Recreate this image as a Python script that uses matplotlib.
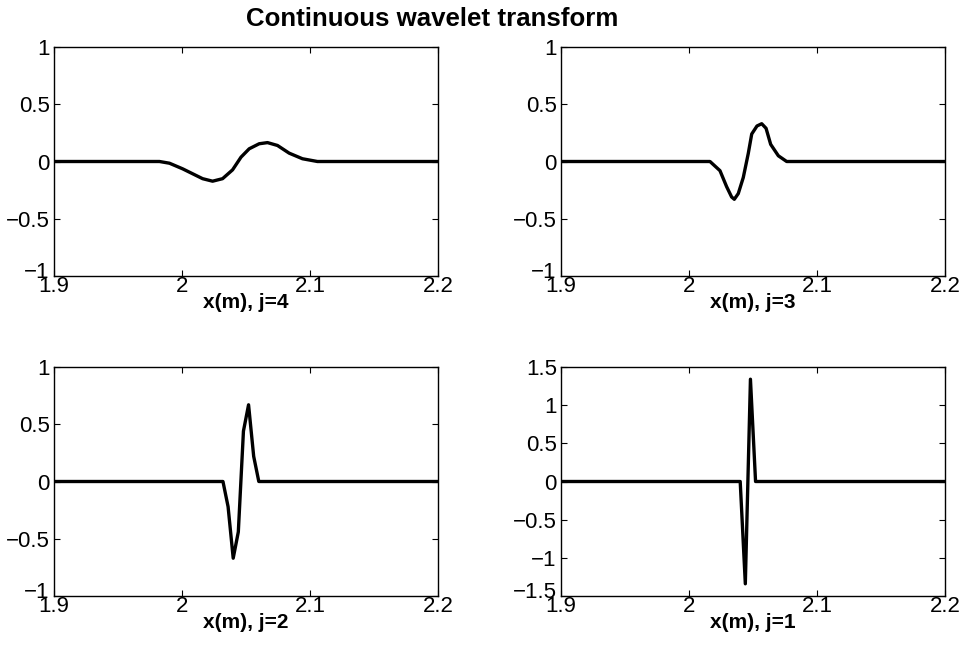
import matplotlib
matplotlib.use('Agg')

import matplotlib.pyplot as plt
import matplotlib.transforms as mtransforms

plt.rcParams['font.family'] = ['Liberation Sans', 'DejaVu Sans']

# Wavelet coefficients, (x in m, value)
x_j4 = [1.9, 1.9824, 1.9902, 2.0005, 2.0083, 2.0161, 2.0239, 2.0317, 2.0395,
        2.0461, 2.0525, 2.0603, 2.0668, 2.0746, 2.0837, 2.0941, 2.1058, 2.2]
y_j4 = [0, 0, -0.015, -0.064, -0.107, -0.150, -0.172, -0.150, -0.073,
        0.038, 0.111, 0.155, 0.165, 0.140, 0.073, 0.024, 0, 0]

x_j3 = [1.9, 2.0164, 2.0242, 2.0294, 2.0333, 2.0354, 2.0385, 2.0424, 2.0463,
        2.0490, 2.0531, 2.0568, 2.0602, 2.0638, 2.0698, 2.0763, 2.2]
y_j3 = [0, 0, -0.08, -0.22, -0.31, -0.33, -0.28, -0.14, 0.07,
        0.24, 0.31, 0.33, 0.29, 0.15, 0.05, 0, 0]

x_j2 = [1.9, 2.032, 2.036, 2.040, 2.044, 2.048, 2.052, 2.056, 2.060, 2.2]
y_j2 = [0, 0, -0.22, -0.67, -0.44, 0.44, 0.67, 0.22, 0, 0]

x_j1 = [1.9, 2.040, 2.044, 2.048, 2.052, 2.2]
y_j1 = [0, 0, -1.34, 1.34, 0, 0]

panels = [
    (x_j4, y_j4, 'x(m), j=4', [-1, 1], [-1, -0.5, 0, 0.5, 1]),
    (x_j3, y_j3, 'x(m), j=3', [-1, 1], [-1, -0.5, 0, 0.5, 1]),
    (x_j2, y_j2, 'x(m), j=2', [-1, 1], [-1, -0.5, 0, 0.5, 1]),
    (x_j1, y_j1, 'x(m), j=1', [-1.5, 1.5], [-1.5, -1, -0.5, 0, 0.5, 1, 1.5]),
]
x_ticks = [1.9, 2.0, 2.1, 2.2]
x_ticklabels = ['1.9', '2', '2.1', '2.2']

W, H = 961, 648
fig = plt.figure(figsize=(W / 100, H / 100), dpi=100)

# axes boxes in pixels: left, top, width, height
boxes = [(54, 47, 384, 229), (561, 47, 384, 229),
         (54, 367, 384, 229), (561, 367, 384, 229)]

for (xs, ys, label, ylim, yticks), (l, t, w, h) in zip(panels, boxes):
    ax = fig.add_axes([l / W, 1 - (t + h) / H, w / W, h / H])
    ax.plot(xs, ys, color='black', linewidth=2.4)
    ax.set_xlim(1.9, 2.2)
    ax.set_ylim(*ylim)
    ax.set_xticks(x_ticks)
    ax.set_xticklabels(x_ticklabels)
    ax.set_yticks(yticks)
    ax.set_yticklabels([('%g' % v).replace('-', '\u2212') for v in yticks])
    ax.tick_params(direction='in', length=4, width=0.8, labelsize=16,
                   top=True, right=True)
    ax.tick_params(axis='x', pad=0)
    ax.tick_params(axis='y', pad=3)
    for s in ax.spines.values():
        s.set_linewidth(1.0)
    ax.set_xlabel(label, fontsize=15, fontweight='bold', labelpad=-3)
    # lowest y label sits a little above its tick, clear of the x labels
    low = ax.get_yticklabels()[0]
    low.set_transform(low.get_transform() +
                      mtransforms.ScaledTranslation(0, 6 / 100, fig.dpi_scale_trans))

fig.text(432 / W, 1 - 19 / H, 'Continuous wavelet transform',
         ha='center', va='center', fontsize=18.6, fontweight='bold')

fig.savefig('out.png', dpi=100)
